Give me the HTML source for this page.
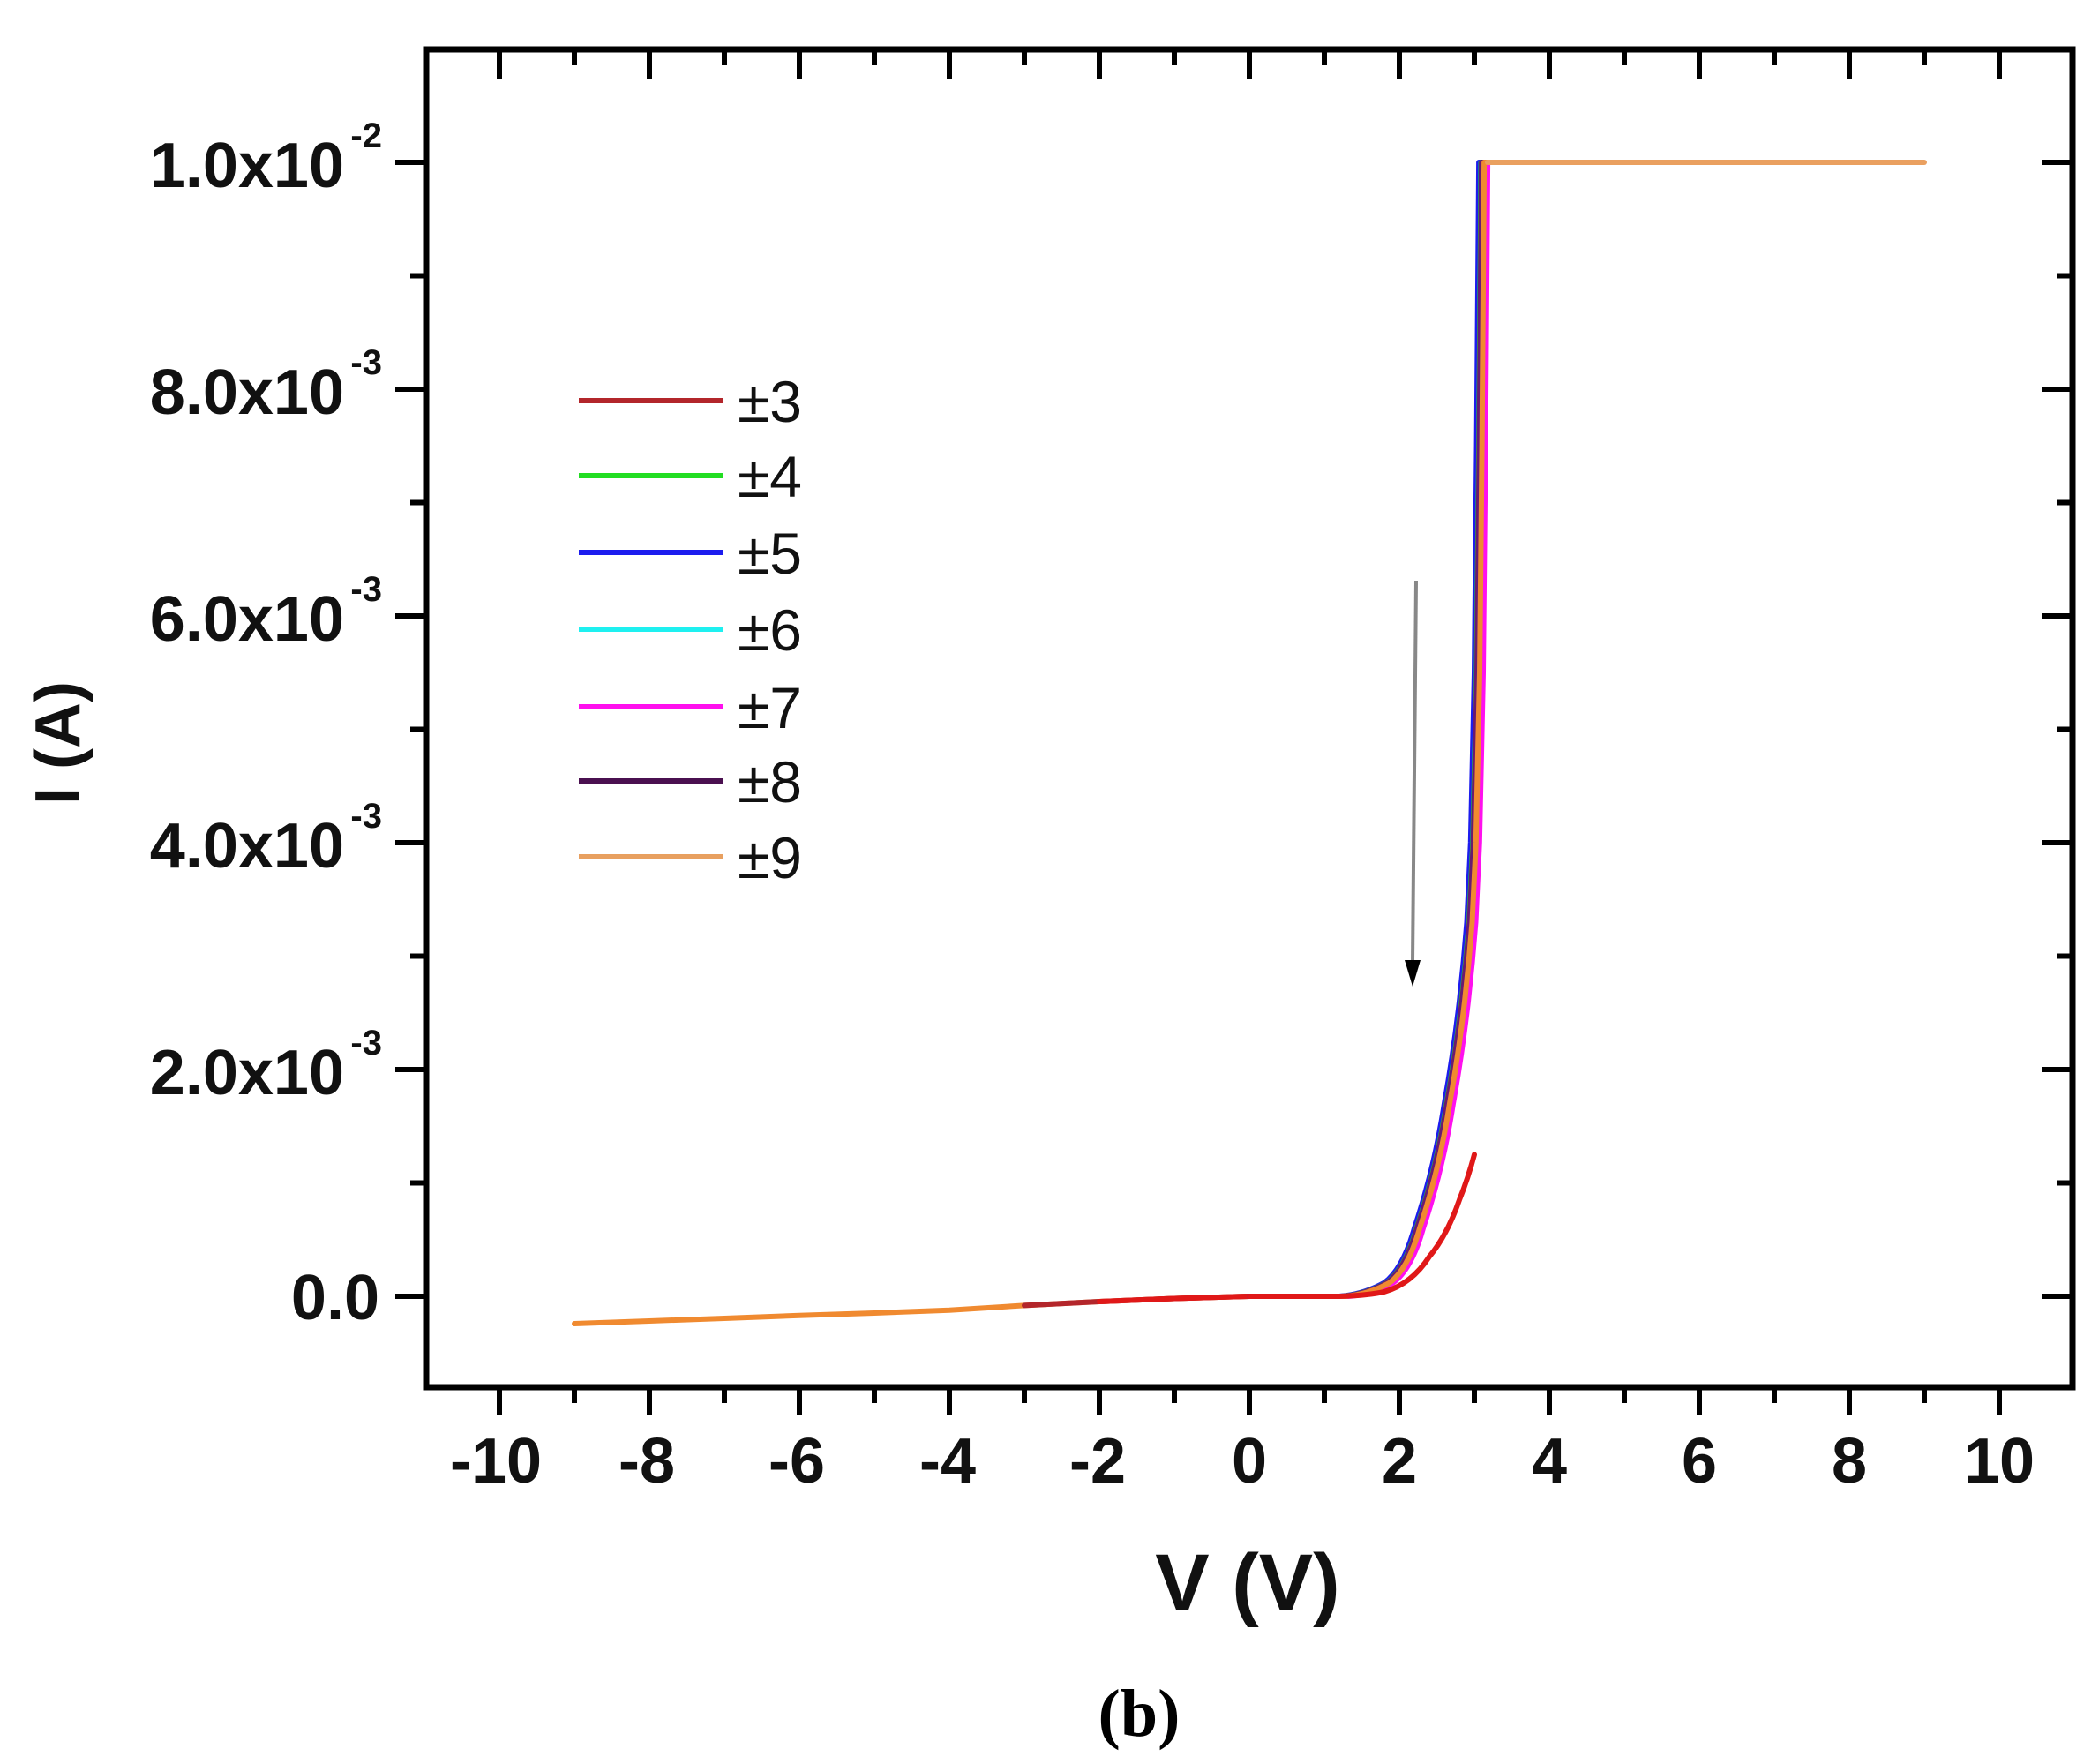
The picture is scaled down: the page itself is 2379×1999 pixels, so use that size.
<!DOCTYPE html>
<html><head><meta charset="utf-8"><style>
html,body{margin:0;padding:0;background:#fff;}
svg{display:block;}
</style></head><body>
<svg width="2379" height="1999" viewBox="0 0 2379 1999" xmlns="http://www.w3.org/2000/svg" font-family="Liberation Sans, Arial, sans-serif">
<rect width="2379" height="1999" fill="#fff"/>
<defs>
<path id="fw" d="M1416 1469 L1518 1469 Q1545 1467 1569 1453.6 Q1590 1438 1603 1391.9 Q1612 1365 1620 1334.1 Q1630 1295 1637 1250.5 Q1647 1195 1654 1134.9 Q1659 1090 1662.5 1045 L1666.8 955 L1671 762.3 L1673.6 505.3 L1676.1 184 L1690 184"/>
</defs>
<g fill="none" stroke-width="6" stroke-linejoin="round" stroke-linecap="round">
<path d="M651 1500 L736 1497 L821 1494 L906 1490.7 L991 1488 L1076 1484.8 L1161 1479.4 L1246 1475 L1331 1471.5 L1416 1469" stroke="#f08a30"/>
<path d="M1161 1479.4 L1246 1475 L1331 1471.5 L1416 1469" stroke="#b3262b"/>
<path d="M1246 1475 L1331 1471.5 L1416 1469" stroke="#e01818"/>
<use href="#fw" stroke="#1c1cee"/>
<use href="#fw" stroke="#22dd22" transform="translate(2.5,0)"/>
<use href="#fw" stroke="#1ef0f0" transform="translate(5,0)"/>
<use href="#fw" stroke="#ff10ee" transform="translate(10,0)"/>
<use href="#fw" stroke="#6a1a70" transform="translate(3,0)"/>
<use href="#fw" stroke="#f08a30" transform="translate(6,0)"/>
<path d="M1416 1469 L1518 1469 Q1550 1468 1569 1463.9 Q1600 1455 1620 1424 Q1640 1400 1654 1359.8 Q1664 1335 1671 1308.4" stroke="#e01818"/>
<path d="M1686 184 L2181 184" stroke="#eaa060" stroke-width="6"/>
</g>
<rect x="483" y="56" width="1866" height="1516" fill="none" stroke="#000" stroke-width="7"/>
<g stroke="#000" stroke-width="6" fill="none">
<path d="M566 1572V1603M736 1572V1603M906 1572V1603M1076 1572V1603M1246 1572V1603M1416 1572V1603M1586 1572V1603M1756 1572V1603M1926 1572V1603M2096 1572V1603M2266 1572V1603
M651 1572V1590M821 1572V1590M991 1572V1590M1161 1572V1590M1331 1572V1590M1501 1572V1590M1671 1572V1590M1841 1572V1590M2011 1572V1590M2181 1572V1590
M566 56V90M736 56V90M906 56V90M1076 56V90M1246 56V90M1416 56V90M1586 56V90M1756 56V90M1926 56V90M2096 56V90M2266 56V90
M651 56V74M821 56V74M991 56V74M1161 56V74M1331 56V74M1501 56V74M1671 56V74M1841 56V74M2011 56V74M2181 56V74
M483 1469H448M483 1212H448M483 955H448M483 698H448M483 441H448M483 184H448
M483 1340.5H465M483 1083.5H465M483 826.5H465M483 569.5H465M483 312.5H465
M2349 1469H2314M2349 1212H2314M2349 955H2314M2349 698H2314M2349 441H2314M2349 184H2314
M2349 1340.5H2331M2349 1083.5H2331M2349 826.5H2331M2349 569.5H2331M2349 312.5H2331"/>
</g>
<g font-weight="bold" font-size="72" text-anchor="end" fill="#111">
<text x="390" y="212">1.0x10</text><text x="433" y="167" font-size="40">-2</text>
<text x="390" y="469">8.0x10</text><text x="433" y="424" font-size="40">-3</text>
<text x="390" y="726">6.0x10</text><text x="433" y="681" font-size="40">-3</text>
<text x="390" y="983">4.0x10</text><text x="433" y="938" font-size="40">-3</text>
<text x="390" y="1240">2.0x10</text><text x="433" y="1195" font-size="40">-3</text>
<text x="430" y="1495">0.0</text>
</g>
<g font-weight="bold" font-size="72" text-anchor="middle" fill="#111">
<text x="562" y="1680">-10</text><text x="733" y="1680">-8</text><text x="903" y="1680">-6</text>
<text x="1074" y="1680">-4</text><text x="1244" y="1680">-2</text><text x="1416" y="1680">0</text>
<text x="1586" y="1680">2</text><text x="1756" y="1680">4</text><text x="1926" y="1680">6</text>
<text x="2096" y="1680">8</text><text x="2266" y="1680">10</text>
</g>
<text x="1414" y="1825" font-weight="bold" font-size="92" text-anchor="middle" fill="#111">V (V)</text>
<text transform="translate(90,842) rotate(-90)" font-weight="bold" font-size="72" text-anchor="middle" fill="#111">I (A)</text>
<text x="1291" y="1967" style="font-family:'Liberation Serif',serif" font-weight="bold" font-size="76" text-anchor="middle" fill="#000">(b)</text>
<g stroke-width="6">
<line x1="656" y1="454" x2="819" y2="454" stroke="#b3262b"/>
<line x1="656" y1="539" x2="819" y2="539" stroke="#22dd22"/>
<line x1="656" y1="626" x2="819" y2="626" stroke="#1c1cee"/>
<line x1="656" y1="713" x2="819" y2="713" stroke="#1ef0f0"/>
<line x1="656" y1="801" x2="819" y2="801" stroke="#ff10ee"/>
<line x1="656" y1="885" x2="819" y2="885" stroke="#4a1050"/>
<line x1="656" y1="971" x2="819" y2="971" stroke="#e8a060"/>
</g>
<g font-size="66" fill="#111">
<text x="836" y="478">±3</text><text x="836" y="563">±4</text><text x="836" y="650">±5</text>
<text x="836" y="737">±6</text><text x="836" y="825">±7</text><text x="836" y="909">±8</text><text x="836" y="995">±9</text>
</g>
<line x1="1605" y1="658" x2="1601" y2="1090" stroke="#888" stroke-width="4"/>
<polygon points="1592,1088 1610,1088 1601,1118" fill="#000"/>
</svg>
</body></html>
